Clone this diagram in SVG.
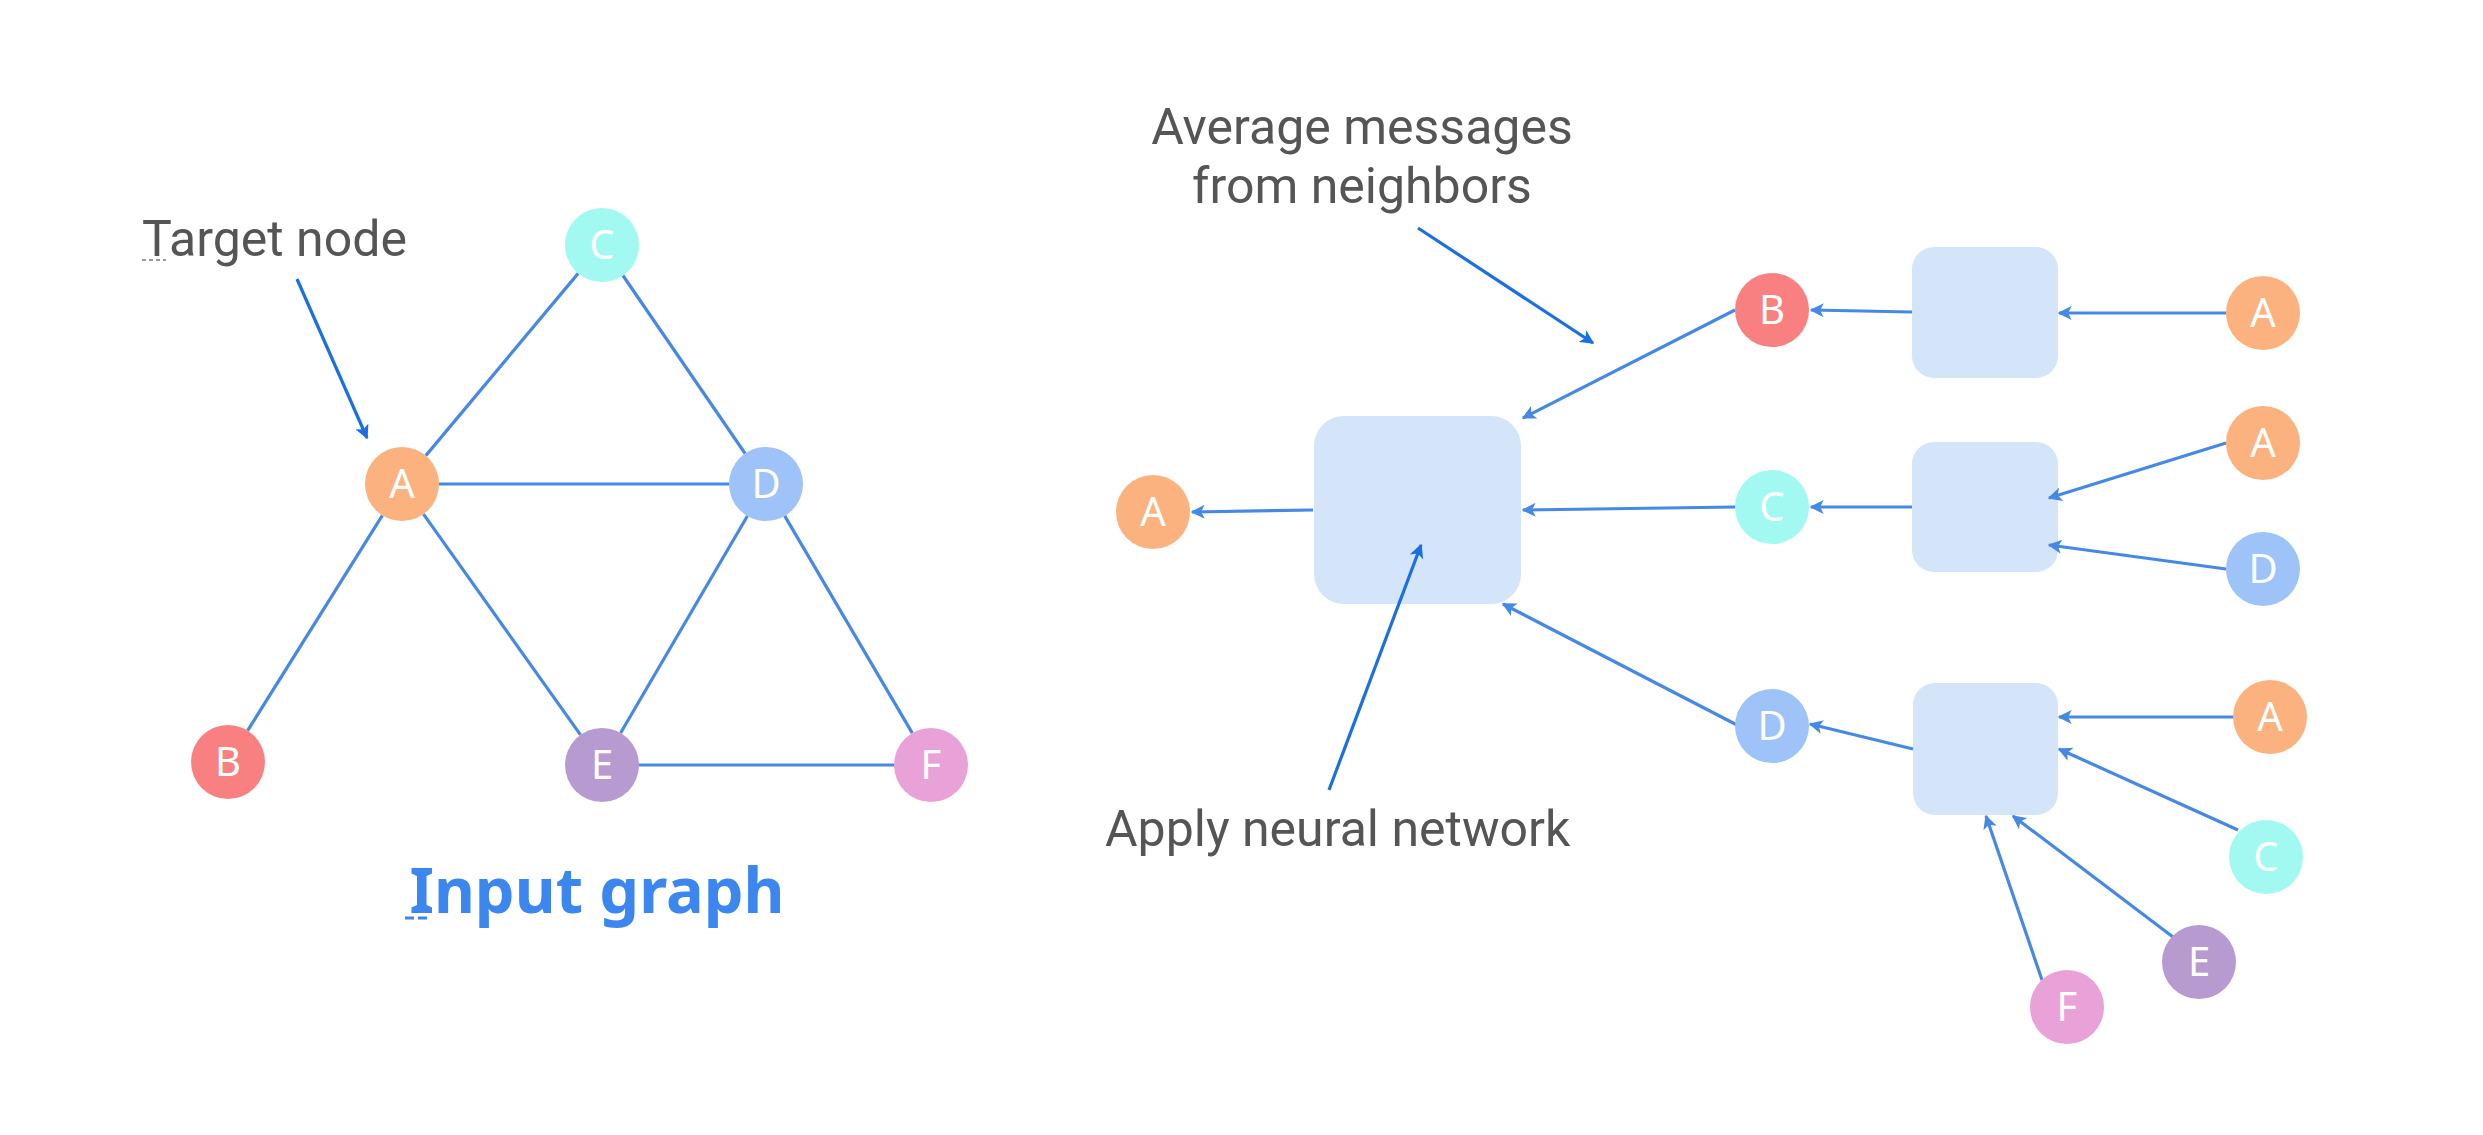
<svg xmlns="http://www.w3.org/2000/svg" width="2483" height="1135" viewBox="0 0 2483 1135">
<style>
.bg{fill:#ffffff}
.lbl{font-family:Roboto,"Noto Sans",sans-serif;font-size:50px;fill:#555555}
.title{font-family:"Noto Sans","Open Sans",sans-serif;font-size:63px;font-weight:bold;fill:#3b86ef}
.nt{font-family:"Noto Sans","Open Sans",sans-serif;font-size:40px;fill:#ffffff;text-anchor:middle}
.edge{stroke:#4689e4;stroke-width:3.2;fill:none}
.conn{stroke:#4689e4;stroke-width:3.2;fill:none;marker-end:url(#ah)}
.note{stroke:#1a6fe3;stroke-width:3.2;fill:none;marker-end:url(#ahd)}
.box{fill:#d4e4f9}
.nA{fill:#fcb27f}.nB{fill:#f98080}.nC{fill:#a2f9f1}.nD{fill:#9dc3f9}.nE{fill:#b79ad0}.nF{fill:#e9a2d7}
</style>
<defs>
<marker id="ah" viewBox="0 0 10 10" refX="9" refY="5" markerWidth="4.4" markerHeight="4.4" orient="auto" markerUnits="strokeWidth">
<path d="M0,0 L10,5 L0,10 L2.5,5 z" fill="#4689e4"/>
</marker>
<marker id="ahd" viewBox="0 0 10 10" refX="9" refY="5" markerWidth="4.4" markerHeight="4.4" orient="auto" markerUnits="strokeWidth">
<path d="M0,0 L10,5 L0,10 L2.5,5 z" fill="#1a6fe3"/>
</marker>
</defs>
<rect class="bg" x="0" y="0" width="2483" height="1135"/>

<g id="box-main"><rect class="box" x="1314" y="416" width="207" height="188" rx="30"/></g>
<g id="box-1"><rect class="box" x="1912" y="247" width="146" height="131" rx="22"/></g>
<g id="box-2"><rect class="box" x="1912" y="442" width="146" height="130" rx="22"/></g>
<g id="box-3"><rect class="box" x="1913" y="683" width="145" height="132" rx="22"/></g>

<g id="connectors">
<line class="edge" x1="425.8" y1="455.6" x2="578.2" y2="273.4"/>
<line class="edge" x1="622.9" y1="275.5" x2="745.1" y2="453.5"/>
<line class="edge" x1="439" y1="484" x2="729" y2="484"/>
<line class="edge" x1="382.4" y1="515.4" x2="247.6" y2="730.6"/>
<line class="edge" x1="423.5" y1="514.1" x2="580.5" y2="734.9"/>
<line class="edge" x1="747.4" y1="516" x2="620.6" y2="733"/>
<line class="edge" x1="784.7" y1="515.9" x2="912.3" y2="733.1"/>
<line class="edge" x1="639" y1="765" x2="894" y2="765"/>

<line class="conn" x1="1313" y1="510" x2="1192" y2="512"/>
<line class="conn" x1="1735" y1="310" x2="1523" y2="418"/>
<line class="conn" x1="1735" y1="507" x2="1523" y2="510"/>
<line class="conn" x1="1737" y1="725" x2="1503" y2="604"/>
<line class="conn" x1="1912" y1="312" x2="1811" y2="310"/>
<line class="conn" x1="1912" y1="507" x2="1811" y2="507"/>
<line class="conn" x1="1913" y1="749" x2="1810" y2="724"/>
<line class="conn" x1="2226" y1="313" x2="2059" y2="313"/>
<line class="conn" x1="2226" y1="443" x2="2049" y2="498"/>
<line class="conn" x1="2226" y1="569" x2="2049" y2="545"/>
<line class="conn" x1="2233" y1="717" x2="2059" y2="717"/>
<line class="conn" x1="2238" y1="830" x2="2059" y2="749"/>
<line class="conn" x1="2173" y1="937" x2="2013" y2="816"/>
<line class="conn" x1="2042" y1="980" x2="1986" y2="816"/>

<line class="note" x1="297" y1="279" x2="367" y2="438"/>
<line class="note" x1="1418" y1="228" x2="1593" y2="343"/>
<line class="note" x1="1329" y1="790" x2="1421" y2="545"/>
</g>

<g id="label-target">
<text class="lbl" x="142" y="256">Target node</text>
<line x1="142" y1="260" x2="166" y2="260" stroke="#777777" stroke-width="1.5" stroke-dasharray="4 3"/>
</g>
<g id="label-input-graph">
<text class="title" x="597" y="913" text-anchor="middle">Input graph</text>
<line x1="405" y1="918" x2="427" y2="918" stroke="#3b86ef" stroke-width="3" stroke-dasharray="9 4"/>
</g>
<g id="label-average">
<text class="lbl" x="1362" y="144" text-anchor="middle">Average messages</text>
<text class="lbl" x="1362" y="203" text-anchor="middle">from neighbors</text>
</g>
<g id="label-apply">
<text class="lbl" x="1105" y="846">Apply neural network</text>
</g>

<g id="g-A"><circle class="nA" cx="402" cy="484" r="37"/><text class="nt" x="402" y="498">A</text></g>
<g id="g-B"><circle class="nB" cx="228" cy="762" r="37"/><text class="nt" x="228" y="776">B</text></g>
<g id="g-C"><circle class="nC" cx="602" cy="245" r="37"/><text class="nt" x="602" y="259">C</text></g>
<g id="g-D"><circle class="nD" cx="766" cy="484" r="37"/><text class="nt" x="766" y="498">D</text></g>
<g id="g-E"><circle class="nE" cx="602" cy="765" r="37"/><text class="nt" x="602" y="779">E</text></g>
<g id="g-F"><circle class="nF" cx="931" cy="765" r="37"/><text class="nt" x="931" y="779">F</text></g>

<g id="r-A-out"><circle class="nA" cx="1153" cy="512" r="37"/><text class="nt" x="1153" y="526">A</text></g>
<g id="r-B"><circle class="nB" cx="1772" cy="310" r="37"/><text class="nt" x="1772" y="324">B</text></g>
<g id="r-C"><circle class="nC" cx="1772" cy="507" r="37"/><text class="nt" x="1772" y="521">C</text></g>
<g id="r-D"><circle class="nD" cx="1772" cy="726" r="37"/><text class="nt" x="1772" y="740">D</text></g>
<g id="r-A1"><circle class="nA" cx="2263" cy="313" r="37"/><text class="nt" x="2263" y="327">A</text></g>
<g id="r-A2"><circle class="nA" cx="2263" cy="443" r="37"/><text class="nt" x="2263" y="457">A</text></g>
<g id="r-D2"><circle class="nD" cx="2263" cy="569" r="37"/><text class="nt" x="2263" y="583">D</text></g>
<g id="r-A3"><circle class="nA" cx="2270" cy="717" r="37"/><text class="nt" x="2270" y="731">A</text></g>
<g id="r-C3"><circle class="nC" cx="2266" cy="857" r="37"/><text class="nt" x="2266" y="871">C</text></g>
<g id="r-E3"><circle class="nE" cx="2199" cy="962" r="37"/><text class="nt" x="2199" y="976">E</text></g>
<g id="r-F3"><circle class="nF" cx="2067" cy="1007" r="37"/><text class="nt" x="2067" y="1021">F</text></g>
</svg>
